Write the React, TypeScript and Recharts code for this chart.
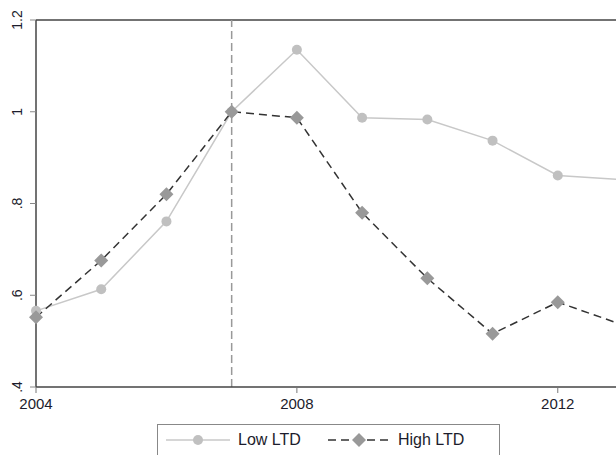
import React from "react";
import { LineChart, Line, XAxis, YAxis, ReferenceLine } from "recharts";

const years = [2004, 2005, 2006, 2007, 2008, 2009, 2010, 2011, 2012, 2013];
const lowLTD = [0.566, 0.613, 0.761, 1.0, 1.135, 0.987, 0.983, 0.937, 0.861, 0.852];
const highLTD = [0.552, 0.676, 0.82, 1.0, 0.987, 0.78, 0.637, 0.516, 0.585, 0.535];
const xTicks = [2004, 2008, 2012];
const yTicks = [0.4, 0.6, 0.8, 1, 1.2];
const yLabels: Record<string, string> = { "0.4": ".4", "0.6": ".6", "0.8": ".8", "1": "1", "1.2": "1.2" };

const data = years.map((year, i) => ({ year, low: lowLTD[i], high: highLTD[i] }));

const FONT = "'Liberation Sans', Arial, sans-serif";
const TEXT = "#1c1c2c";
const AXIS = "#444";

function YTick({ x, y, payload }: any) {
  return (
    <text
      x={x - 6}
      y={y}
      transform={`rotate(-90, ${x - 6}, ${y})`}
      textAnchor="middle"
      fontSize={14}
      fontFamily={FONT}
      fill={TEXT}
    >
      {yLabels[String(payload.value)]}
    </text>
  );
}

function Diamond({ cx, cy }: any) {
  if (cx == null || cy == null) return null;
  const s = 7;
  return <path d={`M${cx},${cy - s}L${cx + s},${cy}L${cx},${cy + s}L${cx - s},${cy}Z`} fill="#999" />;
}

function Legend() {
  return (
    <div
      style={{
        position: "absolute",
        left: 157,
        top: 424,
        width: 341,
        height: 40,
        border: "1px solid #888",
        background: "#fff",
        fontFamily: FONT,
        fontSize: 16,
        color: TEXT,
      }}
    >
      <svg width={341} height={40} style={{ position: "absolute", left: 0, top: 0 }}>
        <line x1={8} y1={15} x2={72} y2={15} stroke="#c8c8c8" strokeWidth={1.5} />
        <circle cx={40} cy={15} r={5} fill="#c0c0c0" />
        <line x1={170} y1={15} x2={234} y2={15} stroke="#333" strokeWidth={1.5} strokeDasharray="8 5" />
        <path d="M201,8L208,15L201,22L194,15Z" fill="#999" />
      </svg>
      <span style={{ position: "absolute", left: 80, top: 6 }}>Low LTD</span>
      <span style={{ position: "absolute", left: 240, top: 6 }}>High LTD</span>
    </div>
  );
}

export default function App() {
  return (
    <div style={{ position: "absolute", left: 0, top: 0, width: 616, height: 455, overflow: "hidden", background: "#fff" }}>
      <LineChart width={640} height={455} data={data} margin={{ top: 20, right: 17, left: 0, bottom: 0 }}>
        <XAxis
          dataKey="year"
          type="number"
          domain={[2004, 2013]}
          ticks={xTicks}
          tickSize={6}
          tickMargin={5}
          height={68}
          stroke={AXIS}
          strokeWidth={1.5}
          tickLine={{ stroke: "#777", strokeWidth: 1 }}
          tick={{ fontSize: 15, fontFamily: FONT, fill: TEXT }}
        />
        <YAxis
          type="number"
          domain={[0.4, 1.2]}
          ticks={yTicks}
          width={36}
          tickSize={6}
          tickMargin={2}
          stroke={AXIS}
          strokeWidth={1.5}
          tickLine={{ stroke: "#888", strokeWidth: 1 }}
          tick={<YTick />}
        />
        <ReferenceLine y={1.2} stroke={AXIS} strokeWidth={1.5} />
        <ReferenceLine x={2007} stroke="#999" strokeWidth={1.5} strokeDasharray="8 4" />
        <Line
          dataKey="low"
          stroke="#c8c8c8"
          strokeWidth={1.5}
          dot={{ r: 5, fill: "#c0c0c0", stroke: "none" }}
          isAnimationActive={false}
        />
        <Line
          dataKey="high"
          stroke="#333"
          strokeWidth={1.5}
          strokeDasharray="8 5"
          dot={<Diamond />}
          isAnimationActive={false}
        />
      </LineChart>
      <Legend />
    </div>
  );
}
